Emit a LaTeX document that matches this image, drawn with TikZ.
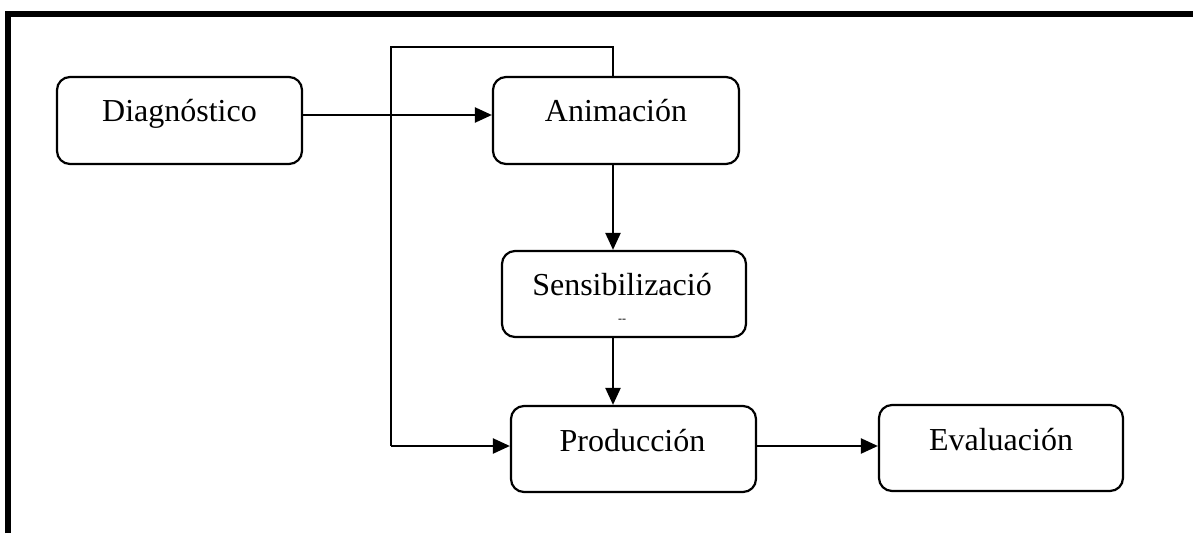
\documentclass[tikz,border=0pt]{standalone}
\usepackage{fontspec}
\setmainfont{Liberation Serif}
\usetikzlibrary{arrows.meta}
\begin{document}
\begin{tikzpicture}[x=1pt,y=-1pt,
  box/.style={draw,line width=2.2pt,rounded corners=13pt,minimum width=#1,minimum height=87pt,inner sep=0pt},
  txt/.style={anchor=base,inner sep=0pt,font=\fontsize{32}{38}\selectfont},
  conn/.style={line width=2.2pt},
  arr/.style={conn,-{Triangle[length=17pt,width=15pt]}}]
\useasboundingbox (0,0) rectangle (1193,533);
\draw[line width=6pt,line join=miter] (8,533) -- (8,14) -- (1193,14);
% boxes
\node[box=245pt] (diag) at (179.5,120.5) {};
\node[box=246pt] (anim) at (616,120.5) {};
\node[box=244pt,minimum height=86pt] (sens) at (624,294) {};
\node[box=245pt,minimum height=86pt] (prod) at (633.5,449) {};
\node[box=244pt,minimum height=86pt] (eval) at (1001,448) {};
% texts
\node[txt] (tdiag) at ([yshift=-1pt]diag.center) {Diagnóstico};
\node[txt] (tanim) at ([yshift=-1pt]anim.center) {Animación};
\node[txt] (tsens) at ([xshift=-2pt,yshift=-1pt]sens.center) {Sensibilizació};
\node[inner sep=0pt,font=\fontsize{12}{12}\selectfont] (tcut) at (622,321) {-{}-};
\node[txt] (tprod) at ([xshift=-1pt,yshift=-2pt]prod.center) {Producción};
\node[txt] (teval) at ([yshift=-2pt]eval.center) {Evaluación};
% connectors
\draw[arr] ([yshift=5.5pt]diag.east) -- ([yshift=5.5pt]anim.west);
\coordinate (la) at (613,47);
\coordinate (lb) at (391,47);
\draw[conn] (anim.north -| la) -- (la) -- (lb) -- (lb |- 446,446);
\draw[arr] (lb |- 446,446) -- ([yshift=3pt]prod.west);
\draw[arr] (anim.south -| la) -- (sens.north -| la);
\draw[arr] (sens.south -| la) -- (prod.north -| la);
\draw[arr] ([yshift=3pt]prod.east) -- ([yshift=2pt]eval.west);
\end{tikzpicture}
\end{document}
